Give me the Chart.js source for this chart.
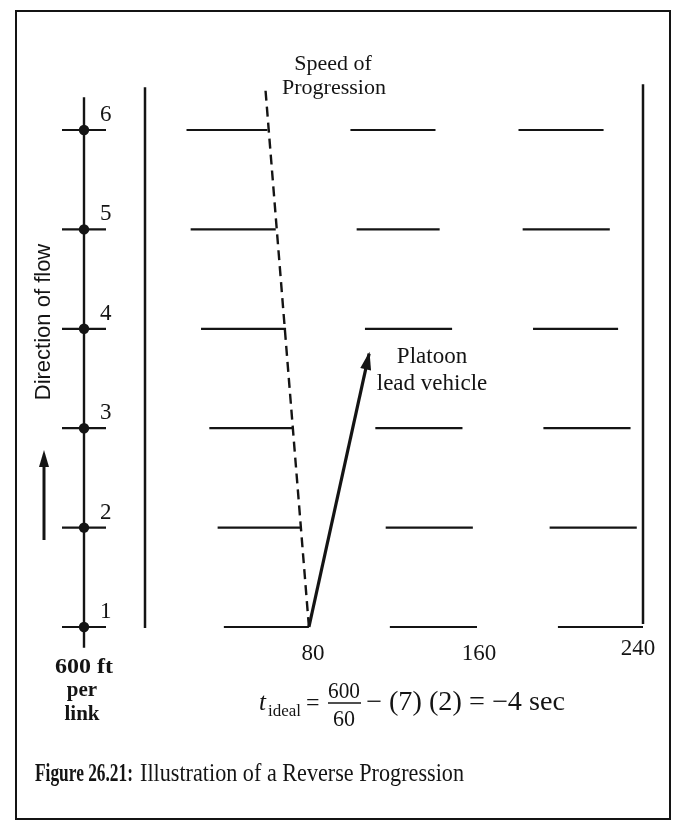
<!DOCTYPE html>
<html>
<head>
<meta charset="utf-8">
<script src="https://cdn.jsdelivr.net/npm/chart.js@4"></script>
<style>
html, body { margin: 0; padding: 0; background: #fff; }
canvas { display: block; }
</style>
</head>
<body>
<canvas id="grafico" width="675" height="821"></canvas>
<script>
// intersections along the arterial (600 ft per link), times in seconds
const intersections = [1, 2, 3, 4, 5, 6];
const redStartA = [38, 35, 31, 27, 22, 20];
const redEndA = [79, 75, 71, 68, 63, 59];
const redStartB = [118, 116, 111, 106, 102, 99];
const redEndB = [160, 158, 153, 148, 142, 140];
const redStartC = [199, 195, 192, 187, 182, 180];
const redEndC = [240, 237, 234, 228, 224, 221];
const progressionTime = [79, 58];
const progressionLink = [1, 6.42];
const leadTime = [79, 108];
const leadLink = [1, 3.75];
const boundaryTime = [0, 240];
const boundaryBottom = [0.99, 1.03];
const boundaryTop = [6.43, 6.46];
const timeTicks = [80, 160, 240];

const INK = '#141414';
const SERIF = '"Liberation Serif", "DejaVu Serif", serif';

function segment(t0, t1, y0, y1, extra) {
    return Object.assign({
        data: [{ x: t0, y: y0 }, { x: t1, y: y1 }],
        showLine: true,
        borderColor: INK,
        borderWidth: 2.2,
        pointRadius: 0,
        fill: false,
        clip: false
    }, extra || {});
}

const datasets = [];
intersections.forEach((n, i) => {
    datasets.push(segment(redStartA[i], redEndA[i], n, n));
    datasets.push(segment(redStartB[i], redEndB[i], n, n));
    datasets.push(segment(redStartC[i], redEndC[i], n, n));
});
boundaryTime.forEach((t, i) => {
    datasets.push(segment(t, t, boundaryBottom[i], boundaryTop[i], { borderWidth: 2.5 }));
});
datasets.push(segment(progressionTime[0], progressionTime[1], progressionLink[0], progressionLink[1],
    { borderDash: [10, 6], borderWidth: 2.4 }));
datasets.push(segment(leadTime[0], leadTime[1], leadLink[0], leadLink[1], { borderWidth: 3.2 }));

// draw text, optionally squeezed to a given width (the scan uses a condensed face)
function fitText(c, text, x, y, width, font, align) {
    c.save();
    c.font = font;
    const w = c.measureText(text).width;
    const sx = width ? width / w : 1;
    let left = x;
    if (align === 'center') left = x - w * sx / 2;
    c.translate(left, y);
    c.scale(sx, 1);
    c.textAlign = 'left';
    c.fillText(text, 0, 0);
    c.restore();
}

const decorations = {
    id: 'decorations',
    afterDraw(chart) {
        const c = chart.ctx;
        const xs = chart.scales.x;
        const ys = chart.scales.y;
        c.save();
        c.fillStyle = INK;
        c.strokeStyle = INK;
        c.textBaseline = 'alphabetic';

        // arrow head on lead vehicle line
        const x0 = xs.getPixelForValue(leadTime[0]), y0 = ys.getPixelForValue(leadLink[0]);
        const x1 = xs.getPixelForValue(leadTime[1]), y1 = ys.getPixelForValue(leadLink[1]);
        const a = Math.atan2(y1 - y0, x1 - x0);
        c.beginPath();
        c.moveTo(x1 + 2 * Math.cos(a), y1 + 2 * Math.sin(a));
        c.lineTo(x1 - 16 * Math.cos(a) + 5.5 * Math.sin(a), y1 - 16 * Math.sin(a) - 5.5 * Math.cos(a));
        c.lineTo(x1 - 16 * Math.cos(a) - 5.5 * Math.sin(a), y1 - 16 * Math.sin(a) + 5.5 * Math.cos(a));
        c.closePath();
        c.fill();

        // link axis on the left
        const ax = 84;
        c.lineWidth = 2.4;
        c.beginPath();
        c.moveTo(ax, ys.getPixelForValue(6.33));
        c.lineTo(ax, ys.getPixelForValue(0.79));
        c.stroke();
        c.font = '23px ' + SERIF;
        intersections.forEach(n => {
            const py = ys.getPixelForValue(n);
            c.lineWidth = 2.2;
            c.beginPath();
            c.moveTo(62, py);
            c.lineTo(106, py);
            c.stroke();
            c.beginPath();
            c.arc(ax, py, 5.2, 0, Math.PI * 2);
            c.fill();
            c.fillText(String(n), 100, py - 9);
        });

        // direction of flow
        c.save();
        c.translate(50, 322);
        c.rotate(-Math.PI / 2);
        c.font = '22px "Liberation Sans", Arial, sans-serif';
        c.textAlign = 'center';
        c.fillText('Direction of flow', 0, 0);
        c.restore();
        c.lineWidth = 3;
        c.beginPath();
        c.moveTo(44, 540);
        c.lineTo(44, 462);
        c.stroke();
        c.beginPath();
        c.moveTo(44, 450);
        c.lineTo(39, 467);
        c.lineTo(49, 467);
        c.closePath();
        c.fill();

        // time ticks
        timeTicks.forEach(t => {
            const px = xs.getPixelForValue(t);
            const dx = t === 240 ? -5 : 2;
            fitText(c, String(t), px + dx, t === 240 ? 655 : 660, null, '23px ' + SERIF, 'center');
        });

        // annotations
        fitText(c, 'Speed of', 333, 70, null, '22px ' + SERIF, 'center');
        fitText(c, 'Progression', 334, 94, null, '22px ' + SERIF, 'center');
        fitText(c, 'Platoon', 432, 363, null, '23px ' + SERIF, 'center');
        fitText(c, 'lead vehicle', 432, 390, null, '23px ' + SERIF, 'center');

        // link length
        fitText(c, '600 ft', 84, 673, 58, 'bold 22px ' + SERIF, 'center');
        fitText(c, 'per', 82, 696, null, 'bold 21px ' + SERIF, 'center');
        fitText(c, 'link', 82, 720, null, 'bold 21px ' + SERIF, 'center');

        // formula
        const fy = 710;
        fitText(c, 't', 259, fy, null, 'italic 25px ' + SERIF, 'left');
        fitText(c, 'ideal', 268, fy + 6, null, '17px ' + SERIF, 'left');
        fitText(c, '=', 306, fy, null, '24px ' + SERIF, 'left');
        fitText(c, '600', 344, 698, 32, '24px ' + SERIF, 'center');
        c.lineWidth = 1.3;
        c.beginPath();
        c.moveTo(328, 703);
        c.lineTo(361, 703);
        c.stroke();
        fitText(c, '60', 344, 726, 22, '24px ' + SERIF, 'center');
        fitText(c, '\u2212 (7) (2) = \u22124 sec', 366, fy, 199, '27px ' + SERIF, 'left');

        // caption
        fitText(c, 'Figure 26.21:', 35, 781, 98, 'bold 25px ' + SERIF, 'left');
        fitText(c, 'Illustration of a Reverse Progression', 140, 781, 324, '25px ' + SERIF, 'left');

        // frame
        c.lineWidth = 2;
        c.strokeRect(16, 11, 654, 808);
        c.restore();
    }
};

const ctx = document.getElementById('grafico').getContext('2d');

let grafico = new Chart(ctx, {
    type: 'scatter',
    data: { datasets: datasets },
    options: {
        responsive: false,
        animation: false,
        layout: {
            padding: { left: 145, right: 32, top: 80.3, bottom: 169.15 }
        },
        scales: {
            x: { type: 'linear', min: 0, max: 240, display: false },
            y: { type: 'linear', min: 0.75, max: 6.5, display: false }
        },
        plugins: {
            legend: { display: false },
            tooltip: { enabled: false }
        }
    },
    plugins: [decorations]
});
</script>
</body>
</html>
